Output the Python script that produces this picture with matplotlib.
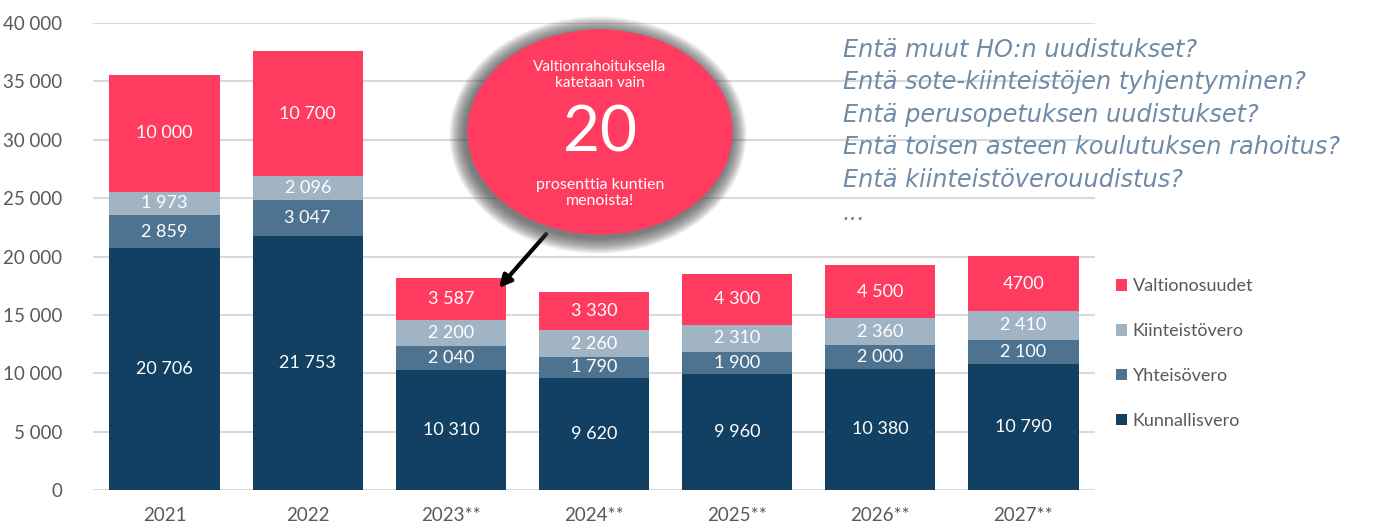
import numpy as np
import matplotlib
matplotlib.use("Agg")
import matplotlib.pyplot as plt
from matplotlib.patches import Ellipse

plt.rcParams['font.family'] = ['Lato', 'DejaVu Sans']

years = ["2021", "2022", "2023**", "2024**", "2025**", "2026**", "2027**"]
kunnallisvero = [20706, 21753, 10310, 9620, 9960, 10380, 10790]
yhteisovero = [2859, 3047, 2040, 1790, 1900, 2000, 2100]
kiinteistovero = [1973, 2096, 2200, 2260, 2310, 2360, 2410]
valtionosuudet = [10000, 10700, 3587, 3330, 4300, 4500, 4700]
valtio_labels = ["10 000", "10 700", "3 587", "3 330", "4 300", "4 500", "4700"]

series = [
    ("Kunnallisvero", kunnallisvero, "#124062"),
    ("Yhteisövero", yhteisovero, "#4e7390"),
    ("Kiinteistövero", kiinteistovero, "#a1b4c4"),
    ("Valtionosuudet", valtionosuudet, "#ff3b5f"),
]

questions = [
    "Entä muut HO:n uudistukset?",
    "Entä sote-kiinteistöjen tyhjentyminen?",
    "Entä perusopetuksen uudistukset?",
    "Entä toisen asteen koulutuksen rahoitus?",
    "Entä kiinteistöverouudistus?",
    "...",
]

def fmt(v):
    return f"{v:,}".replace(",", " ")

fig = plt.figure(figsize=(13.8, 5.25), dpi=100)
ax = fig.add_axes([93 / 1380, 35 / 525, 1002 / 1380, 467 / 525])

x = np.arange(len(years))
bottom = np.zeros(len(years))
handles = []
for name, vals, color in series:
    vals = np.array(vals)
    b = ax.bar(x, vals, 0.77, bottom=bottom, color=color, zorder=3, label=name)
    handles.append(b)
    for i, v in enumerate(vals):
        lab = valtio_labels[i] if name == "Valtionosuudet" else fmt(int(v))
        ax.text(x[i], bottom[i] + v / 2, lab, ha="center", va="center",
                color="white", fontsize=13, zorder=4)
    bottom += vals

ax.set_xlim(-0.5, len(years) - 0.5)
ax.set_ylim(0, 40000)
ax.set_yticks(np.arange(0, 40001, 5000))
ax.set_yticklabels([fmt(v) for v in range(0, 40001, 5000)])
ax.set_xticks(x)
ax.set_xticklabels(years)
ax.tick_params(length=0, labelsize=13.5, colors="#595959")
ax.tick_params(axis="y", pad=22)
ax.tick_params(axis="x", pad=12)
ax.grid(axis="y", color="#d9d9d9", lw=1.5, zorder=0)
for s in ax.spines.values():
    s.set_visible(False)

leg = fig.legend(handles=handles[::-1], loc="upper left",
                 bbox_to_anchor=(1100 / 1380, 1 - 262 / 525), frameon=False,
                 fontsize=13, labelcolor="#595959", handlelength=0.6,
                 handleheight=0.6, handletextpad=0.3, labelspacing=1.6)

# kysymykset oikealla
for i, q in enumerate(questions):
    fig.text(843 / 1380, 1 - (50 + 32.5 * i) / 525, q, fontsize=17.3,
             style="italic", color="#6f8ba5", va="center", ha="left",
             family="DejaVu Sans")

# puhekupla varjoineen
cx, cy = 600 / 1380, 1 - 132 / 525
w, h = 265 / 1380, 205 / 525
for k in range(16, 0, -1):
    fig.patches.append(Ellipse((cx - 2 / 1380, cy - 3 / 525),
                               w + 2 * k / 1380, h + 2 * k / 525,
                               transform=fig.transFigure, color="#4a4a4a",
                               alpha=0.07, lw=0, zorder=5))
fig.patches.append(Ellipse((cx, cy), w, h, transform=fig.transFigure,
                           color="#ff3b5f", lw=0, zorder=6))
fig.text(cx, 1 - 75 / 525, "Valtionrahoituksella\nkatetaan vain", ha="center",
         va="center", color="white", fontsize=11, linespacing=1.25, zorder=7)
fig.text(cx, 1 - 133 / 525, "20", ha="center", va="center", color="white",
         fontsize=46, zorder=7)
fig.text(cx, 1 - 193 / 525, "prosenttia kuntien\nmenoista!", ha="center",
         va="center", color="white", fontsize=11.5, linespacing=1.2, zorder=7)

ax.annotate("", xy=(497 / 1380, 1 - 290 / 525), xytext=(548 / 1380, 1 - 232 / 525),
            xycoords="figure fraction", textcoords="figure fraction",
            arrowprops=dict(arrowstyle="-|>", color="black", lw=3,
                            mutation_scale=18), zorder=8)

fig.savefig("out.png", dpi=100)
